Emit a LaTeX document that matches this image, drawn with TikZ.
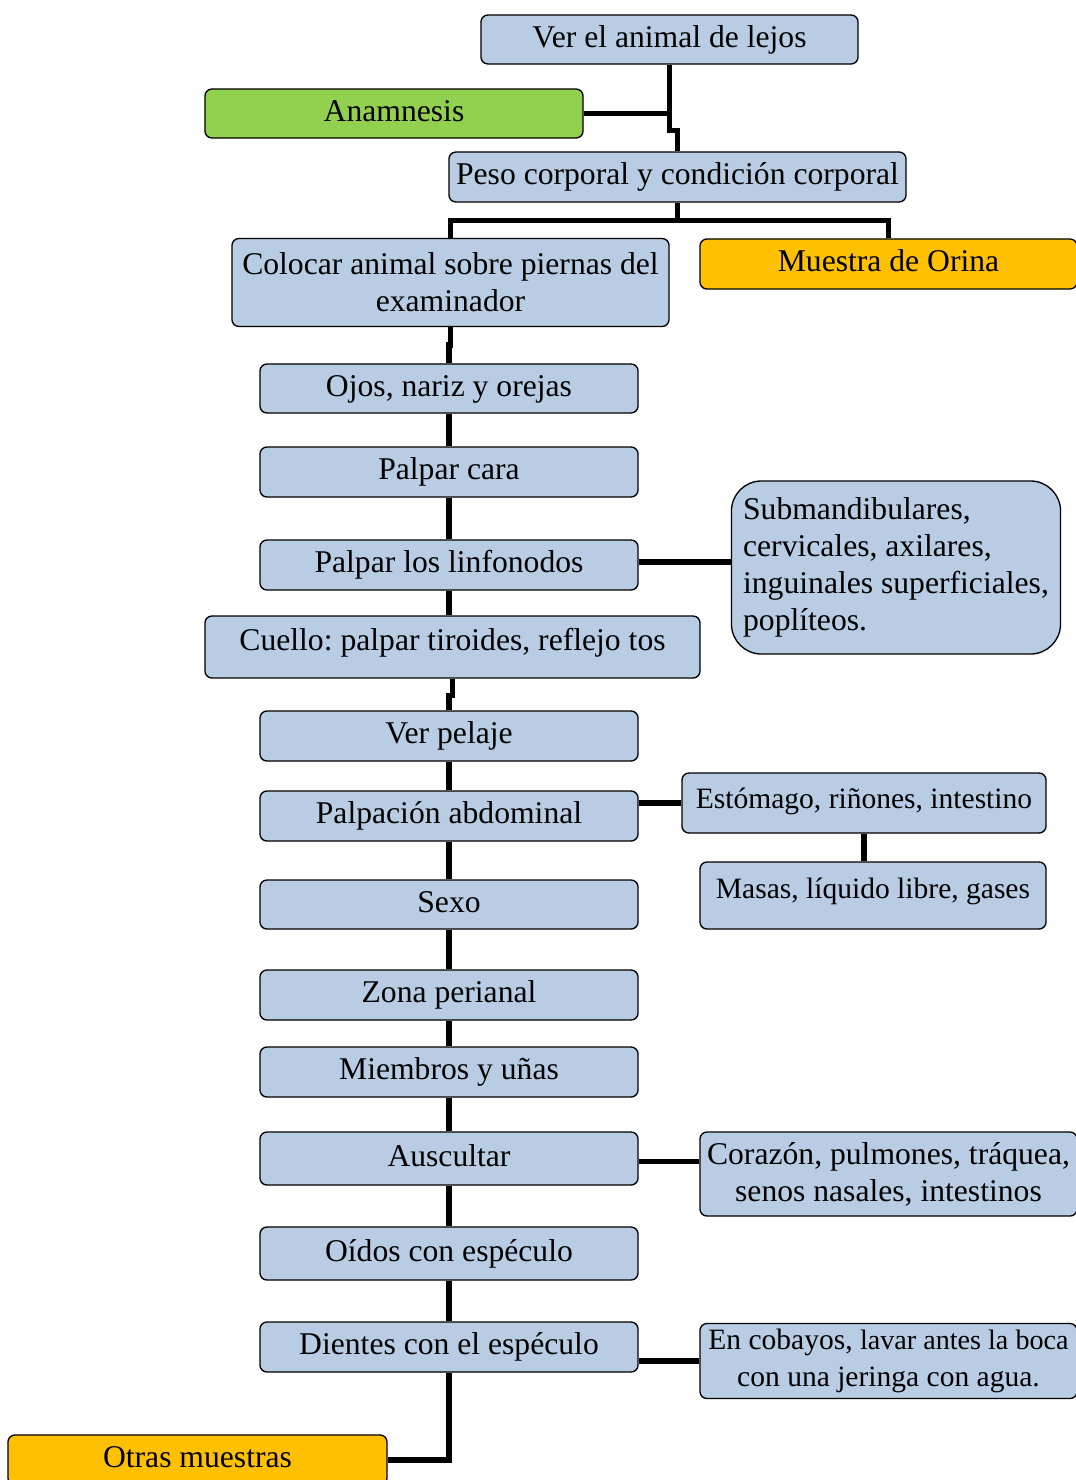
\documentclass[tikz,border=0pt]{standalone}
\usepackage{fontspec}
\setmainfont{Liberation Serif}
\usetikzlibrary{positioning, calc}
\definecolor{boxBlue}{HTML}{B8CCE4}
\definecolor{boxGreen}{HTML}{92D050}
\definecolor{boxOrange}{HTML}{FFC000}
\frenchspacing

\begin{document}
\begin{tikzpicture}[x=0.025cm, y=-0.025cm,
    every node/.style={font=\fontsize{22.5}{26.3}\selectfont},
    small/.style={font=\fontsize{21}{26.3}\selectfont},
    box/.style={draw, line width=0.95pt, rounded corners=5pt, fill=boxBlue, inner sep=0pt},
    one/.style={box, text height=0.54cm, text depth=0.15cm},
    two/.style={box, align=center},
    std/.style={minimum width=9.45cm, minimum height=1.25cm},
    link/.style={line width=3.9pt}]
  \useasboundingbox (0,0) rectangle (1076,1480);
  \node[one, minimum width=9.425cm, minimum height=1.225cm] (ver) at (669.5,39.5) {Ver el animal de lejos};
  \node[one, fill=boxGreen, minimum width=9.45cm, minimum height=1.225cm] (anam) at (394,113.5) {Anamnesis};
  \node[one, minimum width=11.425cm, minimum height=1.25cm] (peso) at (677.5,177) {Peso corporal y condición corporal};
  \node[two, minimum width=10.925cm, minimum height=2.2cm] (colocar) at (450.5,282.5) {Colocar animal sobre piernas del\\examinador};
  \node[one, fill=boxOrange, minimum width=9.425cm, minimum height=1.25cm] (orina) at (888.5,264) {Muestra de Orina};
  \node[one, std, minimum height=1.225cm] (ojos) at (449,388.5) {Ojos, nariz y orejas};
  \node[one, std] (cara) at (449,472) {Palpar cara};
  \node[one, std] (linf) at (449,565) {Palpar los linfonodos};
  \node[box, align=left, rounded corners=0.75cm, minimum width=8.225cm, minimum height=4.325cm] (subm) at (896,567.5) {Submandibulares,\\cervicales, axilares,\\inguinales superficiales,\\poplíteos.};
  \node[one, text depth=0.36cm, minimum width=12.375cm, minimum height=1.55cm] (cuello) at (452.5,647) {Cuello: palpar tiroides, reflejo tos};
  \node[one, std] (pelaje) at (449,736) {Ver pelaje};
  \node[one, std] (palp) at (449,816) {Palpación abdominal};
  \node[one, small, text depth=0.25cm, minimum width=9.1cm, minimum height=1.5cm] (estom) at (864,803) {Estómago, riñones, intestino};
  \node[one, small, text depth=0.4cm, minimum width=8.65cm, minimum height=1.675cm] (masas) at (873,895.5) {Masas, líquido libre, gases};
  \node[one, std, minimum height=1.225cm] (sexo) at (449,904.5) {Sexo};
  \node[one, std] (zona) at (449,995) {Zona perianal};
  \node[one, std] (miemb) at (449,1072) {Miembros y uñas};
  \node[one, std, minimum height=1.325cm] (ausc) at (449,1158.5) {Auscultar};
  \node[two, minimum width=9.425cm, minimum height=2.1cm] (coraz) at (888.5,1174) {Corazón, pulmones, tráquea,\\senos nasales, intestinos};
  \node[one, std, minimum height=1.325cm] (oidos) at (449,1253.5) {Oídos con espéculo};
  \node[one, std] (dientes) at (449,1347) {Dientes con el espéculo};
  \node[two, small, minimum width=9.425cm, minimum height=1.875cm] (cobay) at (888.5,1361) {En cobayos, {\fontsize{20}{26.3}\selectfont lavar antes la boca}\\con una jeringa con agua.};
  \node[one, fill=boxOrange, minimum width=9.475cm, minimum height=1.25cm] (otras) at (197.5,1460) {Otras muestras};

  \draw[link] (ver.south) -- ++(0,66) -| (peso.north);
  \draw[link] (anam.east) -- (anam.east -| ver.south);
  \draw[link] (peso.south) -- ++(0,18) coordinate (fork);
  \draw[link] (colocar.north) |- (fork) -| (orina.north);
  \draw[link] (colocar.south) -- ++(0,18) -| (ojos.north);
  \foreach \a/\b in {ojos/cara, cara/linf, pelaje/palp, palp/sexo, sexo/zona, zona/miemb, miemb/ausc, ausc/oidos, oidos/dientes}
    \draw[link] (\a.south) -- (\b.north);
  \draw[link] (linf.south) -- (linf.south |- cuello.north);
  \draw[link] (cuello.south) -- ++(0,17) -| (pelaje.north);
  \draw[link] ([yshift=2pt]linf.east) -- ([yshift=2pt]linf.east -| subm.west);
  \draw[link] (estom.west) -- (estom.west -| palp.east);
  \draw[link] (estom.south) -- (estom.south |- masas.north);
  \draw[link] ([yshift=-2pt]ausc.east) -- ([yshift=-2pt]ausc.east -| coraz.west);
  \draw[link] (cobay.west) -- (cobay.west -| dientes.east);
  \draw[link] (dientes.south) |- (otras.east);
\end{tikzpicture}
\end{document}
